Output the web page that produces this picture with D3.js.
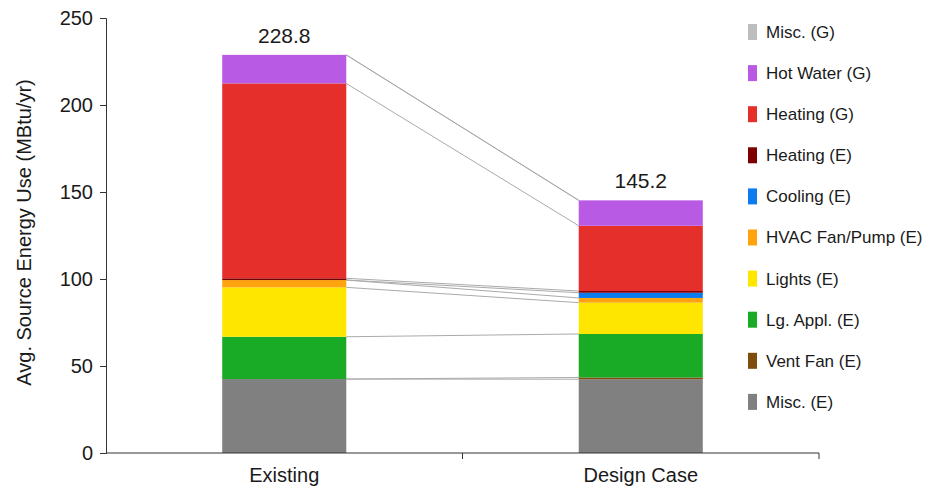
<!DOCTYPE html>
<html><head><meta charset="utf-8">
<script src="https://cdn.jsdelivr.net/npm/d3@7"></script>
<style>
body{margin:0;background:#fff;}
text{font-family:Arial,"Liberation Sans",sans-serif;fill:#1a1a1a;}
</style></head>
<body><svg id="c" width="941" height="490"></svg>
<script>
const cases = ["Existing", "Design Case"];
const seriesNames = ["Misc. (E)", "Vent Fan (E)", "Lg. Appl. (E)", "Lights (E)", "HVAC Fan/Pump (E)", "Cooling (E)", "Heating (E)", "Heating (G)", "Hot Water (G)", "Misc. (G)"];
const seriesColors = ["#808080", "#7f4c0b", "#19ab25", "#ffe600", "#ffa30f", "#0b7cf0", "#7d0000", "#e52f2b", "#b85ae3", "#bdbdbd"];
const existingValues = [42.5, 0.0, 24.3, 28.4, 4.2, 0.0, 1.0, 112.0, 16.4, 0.0];
const designValues   = [42.4, 1.0, 25.0, 18.0, 2.7, 3.0, 1.0, 37.5, 14.6, 0.0];
const totals = [228.8, 145.2];
const yTicks = [0, 50, 100, 150, 200, 250];
const yLabel = "Avg. Source Energy Use (MBtu/yr)";

const svg = d3.select("#c");
const m = {l:106, r:122, t:18, b:37};
const W = 941, H = 490;
const FONT = "Arial,'Liberation Sans',sans-serif";
const y = d3.scaleLinear().domain([0,250]).range([H-m.b, m.t]);
const x = d3.scaleBand().domain(cases).range([m.l, W-m.r]).padding(0);
const bw = x.bandwidth()*0.348;
const bx = c => x(c) + (x.bandwidth()-bw)/2;

const rows = seriesNames.map((n,i)=>({name:n, "Existing":existingValues[i], "Design Case":designValues[i]}));
const data = cases.map(c => { const o={case:c}; rows.forEach(r=>o[r.name]=r[c]); return o; });
const stack = d3.stack().keys(seriesNames)(data);

// connector lines
const g = svg.append("g");
stack.forEach((s,i)=>{
  g.append("line")
    .attr("x1", bx(cases[0])+bw).attr("y1", y(s[0][1]))
    .attr("x2", bx(cases[1])).attr("y2", y(s[1][1]))
    .attr("stroke","#aaaaaa").attr("stroke-width",1);
});

// bars
stack.forEach((s,i)=>{
  g.selectAll(null).data(s).enter().append("rect")
    .attr("x", d=>bx(d.data.case)).attr("width", bw)
    .attr("y", d=>y(d[1])).attr("height", d=>Math.max(0, y(d[0])-y(d[1])))
    .attr("fill", seriesColors[i]);
});

// totals
svg.selectAll(".tot").data(cases).enter().append("text")
  .attr("x", c=>bx(c)+bw/2).attr("y", (c,i)=>y(totals[i])-12)
  .attr("text-anchor","middle").attr("font-size",21).text((c,i)=>totals[i].toFixed(1));

// y axis
const ya = svg.append("g").attr("transform",`translate(${m.l},0)`)
  .call(d3.axisLeft(y).tickValues(yTicks).tickSize(6).tickSizeOuter(6).tickPadding(7));
ya.selectAll("text").attr("font-size",20).attr("fill","#1a1a1a").attr("font-family",FONT);
ya.selectAll("line,path").attr("stroke","#333");

// x axis
const xa = svg.append("g").attr("transform",`translate(0,${H-m.b})`)
  .call(d3.axisBottom(x).tickSize(0).tickSizeOuter(0).tickPadding(15));
xa.selectAll("text").attr("font-size",20).attr("fill","#1a1a1a").attr("font-family",FONT);
xa.select("path").attr("d", `M${x.range()[0]},0H${x.range()[1]}V6`).attr("stroke","#333");
xa.append("line").attr("x1", x(cases[1])).attr("x2", x(cases[1])).attr("y1",0).attr("y2",6).attr("stroke","#333");

// y label
svg.append("text").attr("transform",`translate(31,${(y(0)+y(250))/2-3}) rotate(-90)`)
  .attr("text-anchor","middle").attr("font-size",20).text(yLabel);

// legend
const legendOrder = seriesNames.map((n,i)=>i).reverse();
const lg = svg.append("g");
legendOrder.forEach((si,k)=>{
  const cy = 32 + k*41.1;
  lg.append("rect").attr("x",748).attr("y",cy-8).attr("width",9).attr("height",16).attr("fill",seriesColors[si]);
  lg.append("text").attr("x",766).attr("y",cy).attr("dy","0.35em").attr("font-size",17).text(seriesNames[si]);
});
</script></body></html>
